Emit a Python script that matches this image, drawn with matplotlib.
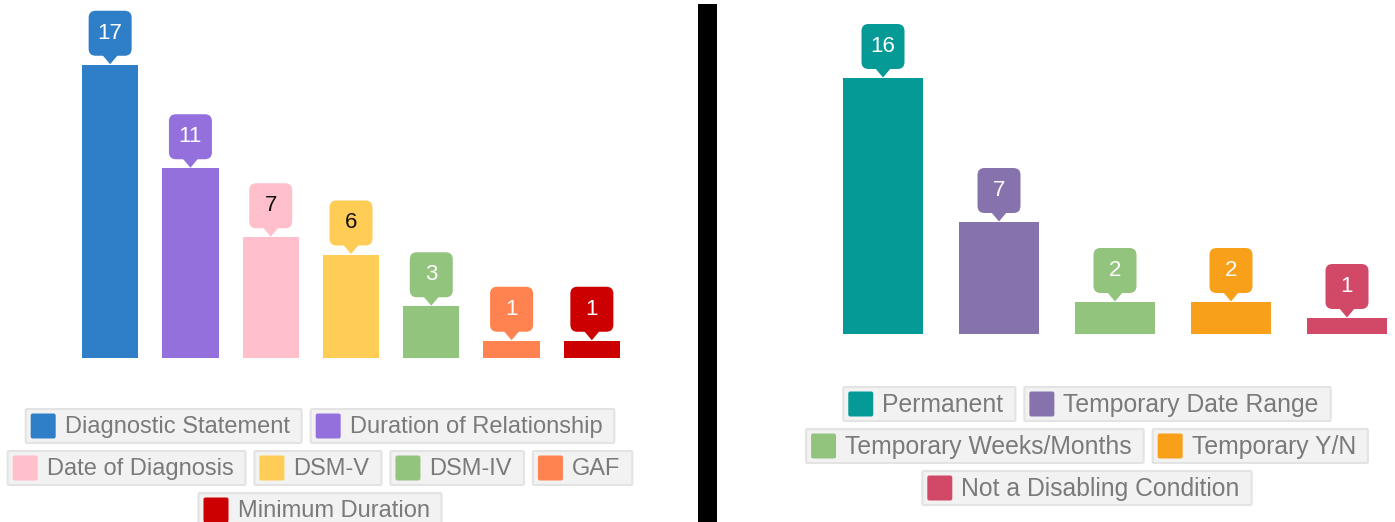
import matplotlib
matplotlib.use("Agg")

import matplotlib.pyplot as plt
from matplotlib.patches import FancyBboxPatch, Polygon, Rectangle
from matplotlib.transforms import IdentityTransform

plt.rcParams['font.family'] = ['Liberation Sans', 'DejaVu Sans']

# left chart
left_labels = ["Diagnostic Statement", "Duration of Relationship", "Date of Diagnosis",
               "DSM-V", "DSM-IV", "GAF", "Minimum Duration"]
left_values = [17, 11, 7, 6, 3, 1, 1]
left_colors = ["#2f7ec8", "#9370db", "#ffc0cb", "#ffcc55", "#93c47d", "#ff8350", "#cc0000"]
left_rows = [[0, 1], [2, 3, 4, 5], [6]]

# right chart
right_labels = ["Permanent", "Temporary Date Range", "Temporary Weeks/Months",
                "Temporary Y/N", "Not a Disabling Condition"]
right_values = [16, 7, 2, 2, 1]
right_colors = ["#069a97", "#8673ae", "#93c47d", "#f9a01b", "#d24867"]
right_rows = [[0, 1], [2, 3], [4]]

dark_text = {"#ffc0cb", "#ffcc55"}

W, H = 1395, 522
fig = plt.figure(figsize=(W / 100, H / 100), dpi=100)
ident = IdentityTransform()


def add_axes_px(left, base, width, height):
    # base is pixel row of the baseline, counted from the top
    ax = fig.add_axes([left / W, (H - base) / H, width / W, height / H])
    ax.set_axis_off()
    return ax


def callout(ax, x, v, color):
    px, py = ax.transData.transform((x, v))
    bw, bh, ph = 43, 45, 9
    box = FancyBboxPatch((px - bw / 2, py + ph), bw, bh,
                         boxstyle="round,pad=0,rounding_size=7",
                         fc=color, ec="none", transform=ident)
    tri = Polygon([(px - 8, py + ph + 1), (px, py + 0.5), (px + 8, py + ph + 1)],
                  closed=True, fc=color, ec="none", transform=ident)
    fig.add_artist(box)
    fig.add_artist(tri)
    tc = "#111111" if color in dark_text else "white"
    fig.text(px, py + ph + bh / 2, str(v), transform=ident, ha="center", va="center",
             fontsize=16, color=tc)


def bars(ax, values, colors, width):
    xs = range(len(values))
    ax.bar(xs, values, width=width, color=colors, linewidth=0)
    for x, v, c in zip(xs, values, colors):
        callout(ax, x, v, c)


def legend(labels, colors, rows, cx, top, fs):
    renderer = fig.canvas.get_renderer()
    bh, pitch, gap = 34, 42, 9
    for r, idxs in enumerate(rows):
        widths = []
        for i in idxs:
            t = fig.text(0, 0, labels[i], fontsize=fs)
            widths.append(5 + 25 + 9 + t.get_window_extent(renderer).width + 12)
            t.remove()
        x = cx - (sum(widths) + gap * (len(idxs) - 1)) / 2
        yb = H - (top + r * pitch) - bh
        for i, bw in zip(idxs, widths):
            fig.add_artist(FancyBboxPatch((x, yb), bw, bh,
                                          boxstyle="round,pad=0,rounding_size=1.5",
                                          fc="#f2f2f2", ec="#e3e3e3", lw=1.5,
                                          transform=ident))
            fig.add_artist(FancyBboxPatch((x + 5, yb + 4.5), 25, 25,
                                          boxstyle="round,pad=0,rounding_size=2",
                                          fc=colors[i], ec="none", transform=ident))
            fig.text(x + 39, yb + bh / 2 - 1, labels[i], transform=ident, ha="left",
                     va="center", fontsize=fs, color="#7a7a7a")
            x += bw + gap


ax1 = add_axes_px(70, 358, 562, 345)
ax1.set_xlim(-0.5, 6.5)
ax1.set_ylim(0, 20)
bars(ax1, left_values, left_colors, 0.7)

ax2 = add_axes_px(825, 334, 580, 320)
ax2.set_xlim(-0.5, 4.5)
ax2.set_ylim(0, 20)
bars(ax2, right_values, right_colors, 0.69)

# divider
fig.add_artist(Rectangle((698, 0), 19, H - 4, fc="black", ec="none", transform=ident))

legend(left_labels, left_colors, left_rows, 320, 409, 17)
legend(right_labels, right_colors, right_rows, 1087, 387, 17.8)

fig.savefig("out.png", dpi=100)
